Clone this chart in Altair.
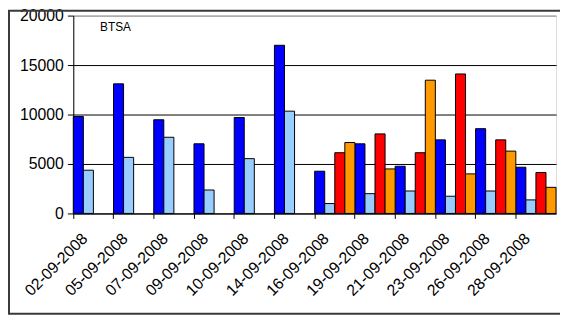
import altair as alt
import pandas as pd

dates = ["02-09-2008", "05-09-2008", "07-09-2008", "09-09-2008", "10-09-2008", "14-09-2008",
         "16-09-2008", "19-09-2008", "21-09-2008", "23-09-2008", "26-09-2008", "28-09-2008"]
series_names = ["S1", "S2", "S3", "S4"]
series_colors = ["#0000FF", "#99CCFF", "#FF0000", "#FF9900"]
s1 = [9800, 13100, 9470, 7040, 9700, 17000, 4270, 7040, 4770, 7440, 8570, 4670]
s2 = [4370, 5670, 7700, 2370, 5540, 10340, 1000, 2000, 2270, 1740, 2270, 1370]
s3 = [None, None, None, None, None, None, 6140, 8040, 6140, 14100, 7440, 4140]
s4 = [None, None, None, None, None, None, 7170, 4500, 13470, 4000, 6300, 2640]
y_ticks = [0, 5000, 10000, 15000, 20000]
title_text = "BTSA"

rows = []
for name, vals in zip(series_names, [s1, s2, s3, s4]):
    for d, v in zip(dates, vals):
        if v is not None:
            rows.append({"date": d, "series": name, "value": v})
df = pd.DataFrame(rows)

FONT = "Liberation Sans"
W, H = 488, 200

x_scale = alt.Scale(domain=dates, paddingInner=0, paddingOuter=0)

border = alt.Chart(pd.DataFrame({"k": [0]})).mark_rect(
    fill=None, stroke="#3a3a3a", strokeWidth=2
).encode(
    x=alt.value(-65), x2=alt.value(520), y=alt.value(-5), y2=alt.value(301.5)
)

bars = alt.Chart(df).mark_bar(stroke="black", strokeWidth=1).encode(
    x=alt.X("date:N", scale=x_scale, sort=dates,
            axis=alt.Axis(title=None, labels=False, ticks=True, tickSize=5, tickColor="black",
                          bandPosition=0, domain=True, domainColor="black", grid=False,
                          orient="bottom")),
    xOffset=alt.XOffset("series:N", scale=alt.Scale(domain=series_names, paddingInner=0, paddingOuter=0)),
    y=alt.Y("value:Q", scale=alt.Scale(domain=[0, 20000], nice=False),
            axis=alt.Axis(title=None, values=y_ticks, format="d", tickSize=6, tickColor="black",
                          domainColor="black", labelPadding=4, labelFontSize=16, labelFont=FONT,
                          labelColor="black",
                          gridColor={"condition": {"test": "datum.value >= 20000", "value": "#808080"},
                                     "value": "#000000"})),
    color=alt.Color("series:N", scale=alt.Scale(domain=series_names, range=series_colors), legend=None),
)

labels_layer = alt.Chart(pd.DataFrame({"date": dates})).mark_point(opacity=0).encode(
    x=alt.X("date:N", scale=x_scale, sort=dates,
            axis=alt.Axis(title=None, labels=True, ticks=False, tickSize=0, domain=False, grid=False,
                          labelAngle=315, labelAlign="right", labelBaseline="alphabetic",
                          labelPadding=26, labelOffset=-5, labelFontSize=16, labelFont=FONT,
                          labelColor="black", orient="bottom", labelOverlap=False)),
    y=alt.value(0),
)

title_layer = alt.Chart(pd.DataFrame({"k": [0]})).mark_text(
    text=title_text, font=FONT, fontSize=12, color="black", align="left", baseline="alphabetic"
).encode(x=alt.value(27), y=alt.value(15.5))

chart = alt.layer(border, bars, labels_layer, title_layer).resolve_axis(x="independent").properties(
    width=W, height=H,
    autosize=alt.AutoSizeParams(type="none"),
    padding={"left": 66, "top": 6, "right": 4, "bottom": 103},
).configure_view(stroke="#808080", strokeWidth=1).configure(background="white")

chart.save("out.html", embed_options={"renderer": "svg", "actions": False})
